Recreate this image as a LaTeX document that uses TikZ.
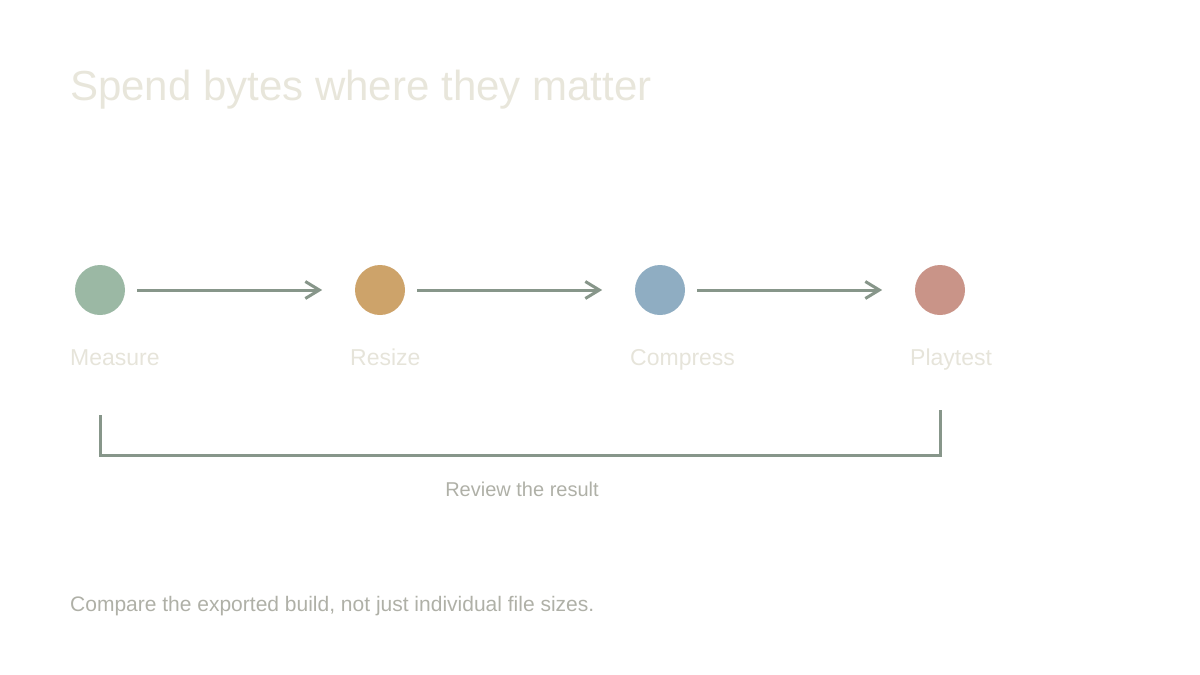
\documentclass[tikz,border=0pt]{standalone}
\usepackage{fontspec}
\setmainfont{Liberation Sans}
\usetikzlibrary{arrows.meta,positioning}
\definecolor{titlegrey}{HTML}{E8E6DB}
\definecolor{labelgrey}{HTML}{E6E4DA}
\definecolor{notegrey}{HTML}{AFB0A7}
\definecolor{linkgreen}{HTML}{87968A}
\definecolor{stepgreen}{HTML}{9BB8A4}
\definecolor{steporange}{HTML}{CDA36A}
\definecolor{stepblue}{HTML}{8FADC2}
\definecolor{stepred}{HTML}{C99488}
\tikzset{
  stage/.style={circle,inner sep=0pt,minimum size=50pt},
  stagelabel/.style={anchor=base west,inner sep=0pt,text=labelgrey,font=\fontsize{23}{27}\selectfont},
  link/.style={draw=linkgreen,line width=3pt,-{Straight Barb[length=14pt,width=17pt,line width=3pt]}},
  loopline/.style={draw=linkgreen,line width=3pt},
  note/.style={anchor=base,inner sep=0pt,text=notegrey,font=\fontsize{20}{24}\selectfont},
}

\begin{document}
\begin{tikzpicture}[x=1pt,y=-1pt]
  \useasboundingbox (0,0) rectangle (1200,675);

  \node[anchor=base west,inner sep=0pt,text=titlegrey,font=\fontsize{42}{48}\selectfont] (title) at (70,100) {Spend bytes where they matter};

  \foreach \name/\col/\cx/\txt in {measure/stepgreen/100/Measure, resize/steporange/380/Resize, compress/stepblue/660/Compress, playtest/stepred/940/Playtest} {
    \node[stage,fill=\col] (\name) at (\cx,290) {};
    \node[stagelabel] (\name-label) at (\cx-30,365) {\txt};
  }

  \draw[link] (measure.east) ++(12,0) -- ++(185,0);
  \draw[link] (resize.east) ++(12,0) -- ++(185,0);
  \draw[link] (compress.east) ++(12,0) -- ++(185,0);

  % feedback bracket
  \coordinate (loop-start) at (100,415);
  \coordinate (loop-end) at (940,410);
  \draw[loopline] (loop-start) |- (520,455) -| (loop-end);

  \node[note] (review) at (522,496) {Review the result};
  \node[note,anchor=base west,font=\fontsize{21}{25}\selectfont] (footer) at (70,611) {Compare the exported build, not just individual file sizes.};
\end{tikzpicture}
\end{document}
